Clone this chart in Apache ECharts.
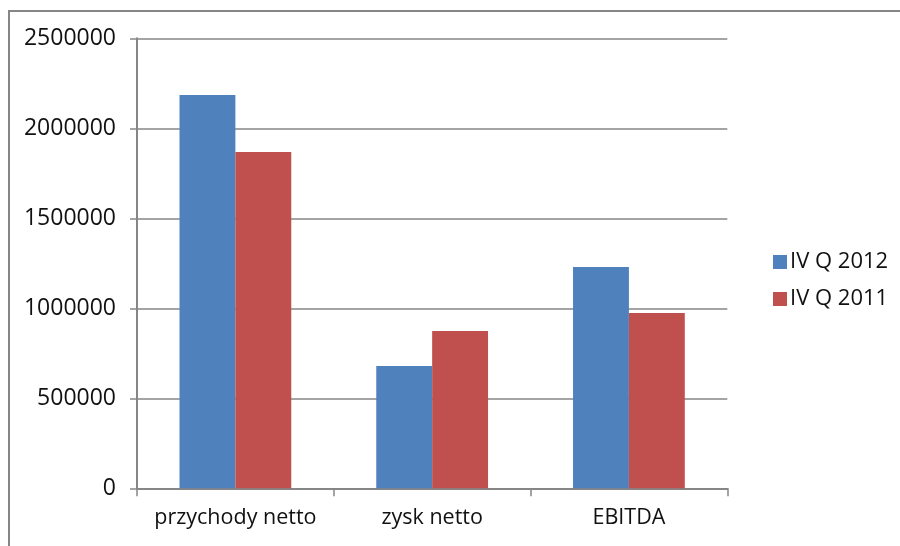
<!DOCTYPE html>
<html>
<head>
<meta charset="utf-8">
<style>
  html, body { margin: 0; padding: 0; background: #fff; }
  #chart { width: 900px; height: 546px; }
</style>
<script src="https://cdn.jsdelivr.net/npm/echarts@6/dist/echarts.min.js"></script>
</head>
<body>
<div id="chart"></div>
<script>
// Quarterly results: categories and values per series
const categories = ['przychody netto', 'zysk netto', 'EBITDA'];
const seriesNames = ['IV Q 2012', 'IV Q 2011'];
const q2012 = [2185000, 679000, 1229000];
const q2011 = [1868000, 874000, 974000];
const yTicks = { min: 0, max: 2500000, interval: 500000 };

const FONT = 'Open Sans';
const AXIS_GRAY = '#868686';

const chart = echarts.init(document.getElementById('chart'), null, { renderer: 'canvas' });

chart.setOption({
  animation: false,
  backgroundColor: '#fff',
  textStyle: { fontFamily: FONT },
  graphic: [{
    type: 'rect',
    shape: { x: 9, y: 11, width: 960, height: 600 },
    style: { fill: null, stroke: AXIS_GRAY, lineWidth: 2 },
    silent: true
  }],
  grid: { left: 137, top: 38.3, right: 172.7, bottom: 57.7 },
  legend: {
    orient: 'vertical',
    left: 768,
    top: 246,
    itemWidth: 14,
    itemHeight: 14,
    itemGap: 15,
    icon: 'rect',
    data: seriesNames,
    textStyle: { fontFamily: FONT, fontSize: 22, color: '#111', padding: [0, 0, 0, -2] }
  },
  xAxis: {
    type: 'category',
    data: categories,
    boundaryGap: true,
    axisLine: { lineStyle: { color: AXIS_GRAY, width: 2 } },
    axisTick: { show: true, length: 8, interval: 0, alignWithLabel: false, lineStyle: { color: AXIS_GRAY, width: 1.5 } },
    axisLabel: { fontFamily: FONT, fontSize: 21.5, color: '#111', margin: 19, interval: 0, hideOverlap: false },
    splitLine: { show: false }
  },
  yAxis: {
    type: 'value',
    min: yTicks.min,
    max: yTicks.max,
    interval: yTicks.interval,
    axisLine: { show: true, lineStyle: { color: AXIS_GRAY, width: 2 } },
    axisTick: { show: true, length: 7, lineStyle: { color: AXIS_GRAY, width: 1.5 } },
    axisLabel: {
      fontFamily: FONT, fontSize: 23, color: '#111', margin: 21,
      formatter: v => String(v)
    },
    splitLine: { show: true, lineStyle: { color: AXIS_GRAY, width: 1.5 } }
  },
  series: [
    {
      name: seriesNames[0],
      type: 'bar',
      data: q2012,
      barWidth: '28.4%',
      barGap: '0%',
      itemStyle: { color: '#4F81BD' }
    },
    {
      name: seriesNames[1],
      type: 'bar',
      data: q2011,
      barWidth: '28.4%',
      barGap: '0%',
      itemStyle: { color: '#C0504D' }
    }
  ]
});
</script>
</body>
</html>
